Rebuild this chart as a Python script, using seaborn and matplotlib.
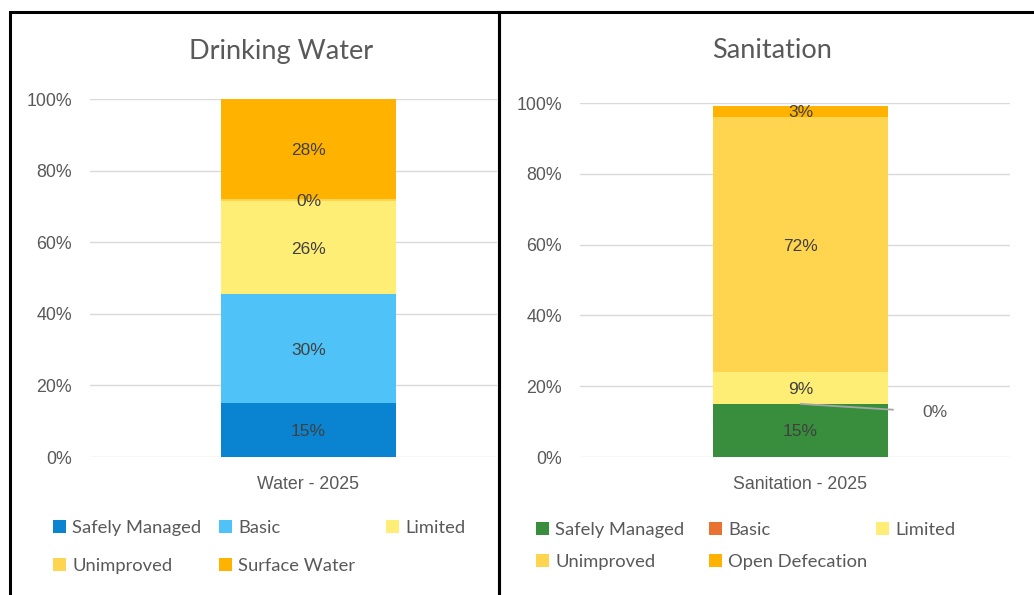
import numpy as np
import pandas as pd
import matplotlib.pyplot as plt
import seaborn as sns
from matplotlib.patches import Rectangle, Patch

# ---- data ----
water_levels = ['Safely Managed', 'Basic', 'Limited', 'Unimproved', 'Surface Water']
water_values = [15.0, 30.4, 26.2, 0.4, 28.0]
water_colors = ['#0A84D0', '#4FC3F7', '#FFEE75', '#FFD54F', '#FFB300']
water_category = 'Water - 2025'

san_levels = ['Safely Managed', 'Basic', 'Limited', 'Unimproved', 'Open Defecation']
san_values = [15.0, 0.0, 9.0, 72.0, 3.2]
san_colors = ['#388E3C', '#E97132', '#FFEE75', '#FFD54F', '#FFB300']
san_category = 'Sanitation - 2025'

TEXT = '#595959'
LABEL = '#404040'
GRID = '#D9D9D9'

sns.set_theme(style='white')
plt.rcParams['font.family'] = ['Liberation Sans', 'DejaVu Sans']

W, H = 1034, 595
fig = plt.figure(figsize=(W / 100, H / 100), dpi=100)


def px_axes(x0, x1, y_top, y_bot):
    return fig.add_axes([x0 / W, 1 - y_bot / H, (x1 - x0) / W, (y_bot - y_top) / H])


def stacked_panel(ax, category, levels, values, colors, xlim, small_label=None):
    df = pd.DataFrame({'level': levels, 'value': values})
    df['top'] = df['value'].cumsum()
    df['mid'] = df['top'] - df['value'] / 2
    df['cat'] = category
    # draw cumulative totals from the tallest down so each segment shows
    for i in range(len(df) - 1, -1, -1):
        sns.barplot(data=df.iloc[[i]], x='cat', y='top', color=colors[i],
                    saturation=1, width=0.4, linewidth=0, ax=ax, errorbar=None)
    for i, row in df.iterrows():
        if small_label is not None and i == small_label:
            ax.annotate(f'{row.value:.0f}%', xy=(0, row.mid), xytext=(88, -5),
                        textcoords='offset points', ha='left', va='center_baseline',
                        fontsize=12.5, color=TEXT,
                        arrowprops=dict(arrowstyle='-', color='#A6A6A6', lw=1.3,
                                        shrinkA=19, shrinkB=0))
            continue
        ax.text(0, row.mid, f'{row.value:.0f}%', ha='center', va='center_baseline',
                fontsize=12.5, color=LABEL)
    ax.set_ylim(0, 100)
    ax.set_yticks(np.arange(0, 101, 20))
    ax.set_yticklabels([f'{v}%' for v in range(0, 101, 20)])
    ax.set_xlim(*xlim)
    ax.set_xlabel('')
    ax.set_ylabel('')
    ax.grid(axis='y', color=GRID, linewidth=1)
    ax.set_axisbelow(True)
    for s in ax.spines.values():
        s.set_visible(False)
    ax.tick_params(axis='y', length=0, pad=13, labelsize=12.8, labelcolor=TEXT)
    ax.tick_params(axis='x', length=0, pad=14, labelsize=12.8, labelcolor=TEXT)
    ax.patch.set_alpha(0)


def column_legends(levels, colors, xs, ys):
    handles = [Patch(facecolor=c, edgecolor='none') for c in colors]
    order = [[0, 3], [1, 4], [2]]
    for col, x in zip(order, xs):
        for j, idx in enumerate(col):
            leg = fig.legend([handles[idx]], [levels[idx]], loc='center left',
                             bbox_to_anchor=(x / W, 1 - ys[j] / H), frameon=False,
                             handlelength=0.7, handleheight=0.7, handletextpad=0.35,
                             borderpad=0, borderaxespad=0,
                             prop={'family': 'Lato', 'size': 13.2})
            for t in leg.get_texts():
                t.set_color(TEXT)


ax1 = px_axes(90, 497, 99, 457)
stacked_panel(ax1, water_category, water_levels, water_values, water_colors,
              (-0.4994, 0.4309))
ax2 = px_axes(580, 1010, 103, 457)
stacked_panel(ax2, san_category, san_levels, san_values, san_colors,
              (-0.504, 0.479), small_label=1)

fig.text(281 / W, 1 - 51 / H, 'Drinking Water', ha='center', va='center',
         fontsize=19.5, color=TEXT, family='Lato')
fig.text(772 / W, 1 - 51 / H, 'Sanitation', ha='center', va='center',
         fontsize=19.5, color=TEXT, family='Lato')

column_legends(water_levels, water_colors, [53, 219, 386], [528, 566])
column_legends(san_levels, san_colors, [536, 709, 876], [530, 562])

# panel borders
fig.patches.append(Rectangle((10 / W, -0.05), 489 / W, 1 - 12 / H + 0.05,
                             transform=fig.transFigure, fill=False,
                             edgecolor='black', linewidth=2.2, zorder=10))
fig.patches.append(Rectangle((499 / W, -0.05), 600 / W, 1 - 12 / H + 0.05,
                             transform=fig.transFigure, fill=False,
                             edgecolor='black', linewidth=2.2, zorder=10))

fig.savefig('out.png', dpi=100)
plt.close(fig)
